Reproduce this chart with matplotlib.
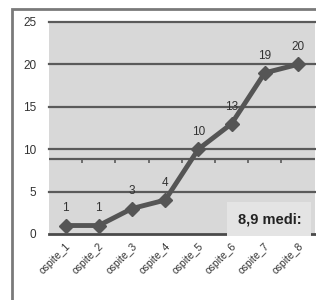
import matplotlib
matplotlib.use("Agg")
import matplotlib.pyplot as plt
from matplotlib.patches import Rectangle

# Data
ospiti = ["ospite_1", "ospite_2", "ospite_3", "ospite_4",
          "ospite_5", "ospite_6", "ospite_7", "ospite_8"]
valori = [1, 1, 3, 4, 10, 13, 19, 20]
media = 8.9
media_label = "8,9 medi:"
y_ticks = [0, 5, 10, 15, 20, 25]

plt.rcParams["font.family"] = ["Liberation Sans", "DejaVu Sans"]

fig = plt.figure(figsize=(3.16, 3.0), dpi=100)
fig.patch.set_facecolor("white")

# Outer frame (cut off on the right and bottom)
fig.patches.append(Rectangle((12 / 316, -0.05), 1.0, 0.97 + 0.05,
                             transform=fig.transFigure, fill=False,
                             edgecolor="#7a7a7a", linewidth=2))

ax = fig.add_axes([49 / 316, 66 / 300, 265.5 / 316, 212 / 300])
ax.set_facecolor("#d8d8d8")

x = list(range(1, len(ospiti) + 1))
ax.set_xlim(0.5, len(ospiti) + 0.5)
ax.set_ylim(0, 25)

# Grid lines
for yt in y_ticks[1:]:
    ax.axhline(yt, color="#5a5a5a", linewidth=1.6, zorder=1, clip_on=False)
ax.axhline(0, color="#4a4a4a", linewidth=2, zorder=1, clip_on=False)

# Average line with small category ticks
ax.axhline(media, color="#5a5a5a", linewidth=1.6, zorder=1)
ax.plot([i + 0.5 for i in x[:-1]], [media] * (len(x) - 1), linestyle="none",
        marker=3, markersize=3, markeredgewidth=1.2, color="#5a5a5a", zorder=1)

# Main line
ax.plot(x, valori, color="#555555", linewidth=3.5, marker="D",
        markersize=7, zorder=3)
for xi, v in zip(x, valori):
    ax.annotate(str(v), (xi, v), xytext=(0, 8), textcoords="offset points",
                ha="center", va="bottom", fontsize=8.5, color="#333333")

# Average label box
ax.text(0.95, 0.07, media_label, transform=ax.transAxes, ha="right",
        va="center", fontsize=10.5, fontweight="semibold", color="#222222",
        bbox=dict(boxstyle="square,pad=0.7", facecolor="#e4e4e4",
                  edgecolor="none"), zorder=4)

ax.set_xticks(x)
ax.set_xticklabels(ospiti, rotation=45, ha="right", rotation_mode="anchor",
                   fontsize=7.5, color="#333333")
ax.set_yticks(y_ticks)
ax.set_yticklabels([str(v) for v in y_ticks], fontsize=8.5, color="#333333")
ax.tick_params(length=0, pad=9)
ax.tick_params(axis="x", pad=5)
for s in ax.spines.values():
    s.set_visible(False)

fig.savefig("out.png", dpi=100)
